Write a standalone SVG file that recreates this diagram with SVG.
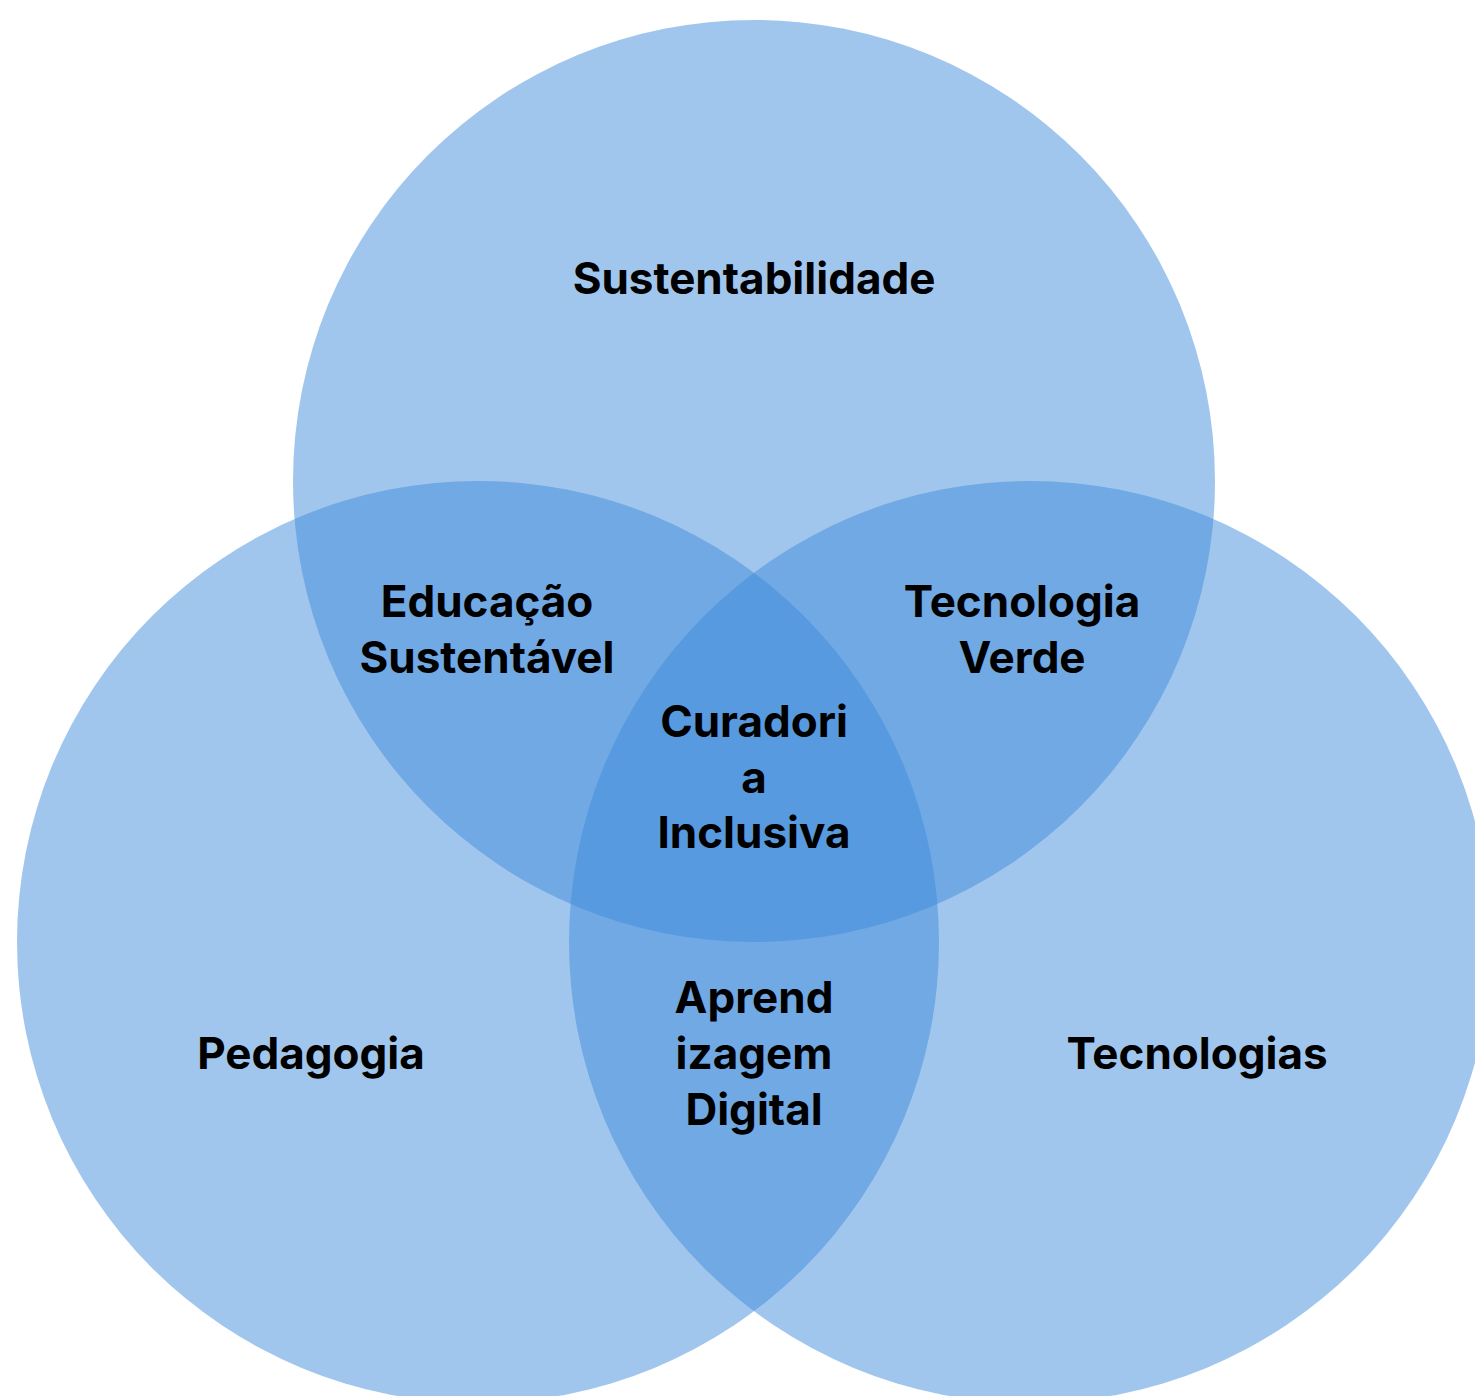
<svg xmlns="http://www.w3.org/2000/svg" width="1475" height="1396" viewBox="0 0 1475 1396">
<style>
.c{fill:#3F8BDA;fill-opacity:0.49}
.t{font-family:Inter,"Liberation Sans",sans-serif;font-weight:700;font-size:44px;fill:#000;text-anchor:middle}
</style>
<rect width="1475" height="1396" fill="#fff"/>
<g id="circles">
<circle id="sustentabilidade" class="c" cx="754" cy="481" r="461"/>
<circle id="pedagogia" class="c" cx="478" cy="942" r="461"/>
<circle id="tecnologias" class="c" cx="1030" cy="942" r="461"/>
</g>
<g id="labels">
<text class="t" x="754" y="294">Sustentabilidade</text>
<text class="t" x="311" y="1069">Pedagogia</text>
<text class="t" x="1197" y="1069">Tecnologias</text>
<text class="t" x="487" y="617">Educação</text>
<text class="t" x="487" y="673">Sustentável</text>
<text class="t" x="1022" y="617">Tecnologia</text>
<text class="t" x="1022" y="673">Verde</text>
<text class="t" x="754" y="737">Curadori</text>
<text class="t" x="754" y="793">a</text>
<text class="t" x="754" y="848">Inclusiva</text>
<text class="t" x="754" y="1013">Aprend</text>
<text class="t" x="754" y="1069">izagem</text>
<text class="t" x="754" y="1125">Digital</text>
</g>
</svg>
